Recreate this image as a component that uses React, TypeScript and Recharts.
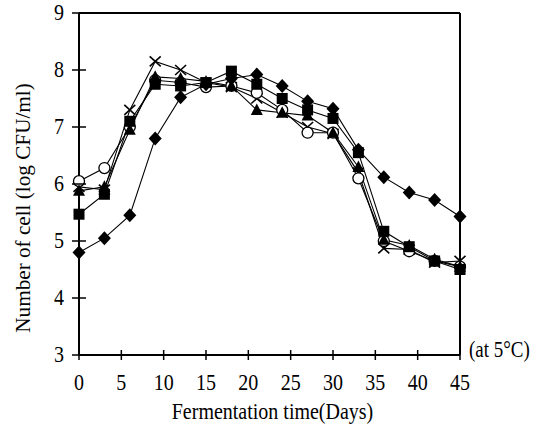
import React from "react";
import { LineChart, Line, XAxis, YAxis, ReferenceLine } from "recharts";

const days = [0, 3, 6, 9, 12, 15, 18, 21, 24, 27, 30, 33, 36, 39, 42, 45];
const diamond = [4.8, 5.05, 5.45, 6.8, 7.52, 7.75, 7.85, 7.92, 7.72, 7.45, 7.32, 6.6, 6.12, 5.85, 5.72, 5.43];
const square = [5.47, 5.82, 7.1, 7.75, 7.72, 7.78, 7.98, 7.75, 7.5, 7.3, 7.15, 6.55, 5.17, 4.9, 4.65, 4.5];
const triangle = [5.88, 5.95, 6.95, 7.88, 7.85, 7.8, 7.72, 7.3, 7.25, 7.2, 6.9, 6.3, 5.02, 4.92, 4.68, 4.55];
const circle = [6.05, 6.28, 7.0, 7.82, 7.78, 7.7, 7.72, 7.6, 7.3, 6.9, 6.9, 6.1, 5.0, 4.82, 4.65, 4.55];
const cross = [5.95, 5.9, 7.3, 8.15, 8.0, 7.78, 7.7, 7.5, 7.25, 7.0, 6.88, 6.2, 4.87, 4.85, 4.62, 4.65];

const xTicks = [0, 5, 10, 15, 20, 25, 30, 35, 40, 45];
const yTicks = [3, 4, 5, 6, 7, 8, 9];

const data = days.map((d, i) => ({
  day: d,
  diamond: diamond[i],
  square: square[i],
  triangle: triangle[i],
  circle: circle[i],
  cross: cross[i],
}));

const FONT = "Liberation Serif, Times New Roman, serif";
const txt = { fontFamily: FONT, fill: "#000" };
// the scan is stretched vertically, so text gets a small vertical scale too
const STRETCH = 1.2;

function marker(kind: string) {
  return (props: any) => {
    const { cx, cy, index } = props;
    if (cx == null || cy == null) return <g key={index} />;
    switch (kind) {
      case "diamond":
        return <polygon key={index} points={`${cx},${cy - 7} ${cx + 6.5},${cy} ${cx},${cy + 7} ${cx - 6.5},${cy}`} fill="#000" />;
      case "square":
        return <rect key={index} x={cx - 5.5} y={cy - 5.5} width={11} height={11} fill="#000" />;
      case "triangle":
        return <polygon key={index} points={`${cx},${cy - 6.5} ${cx + 6},${cy + 5} ${cx - 6},${cy + 5}`} fill="#000" />;
      case "circle":
        return <circle key={index} cx={cx} cy={cy} r={5.5} fill="#fff" stroke="#000" strokeWidth={1.3} />;
      default:
        return (
          <g key={index} stroke="#000" strokeWidth={1.6}>
            <line x1={cx - 5.5} y1={cy - 5} x2={cx + 5.5} y2={cy + 5} />
            <line x1={cx - 5.5} y1={cy + 5} x2={cx + 5.5} y2={cy - 5} />
          </g>
        );
    }
  };
}

const YTick = (props: any) => {
  const { x, y, payload } = props;
  return (
    <g>
      <line x1={x - 7} x2={x + 7} y1={y} y2={y} stroke="#000" strokeWidth={1.5} />
      <text transform={`translate(${x - 15},${y + 7}) scale(1,1.12)`} textAnchor="end" fontSize={20} style={txt}>
        {payload.value}
      </text>
    </g>
  );
};

const XTick = (props: any) => {
  const { x, y, payload } = props;
  return (
    <g>
      <line x1={x} x2={x} y1={y - 5} y2={y + 5} stroke="#000" strokeWidth={1.5} />
      <text transform={`translate(${x},${y + 35}) scale(1,${STRETCH})`} textAnchor="middle" fontSize={20} style={txt}>
        {payload.value}
      </text>
    </g>
  );
};

const XTitle = (props: any) => {
  const { x, y, width } = props.viewBox;
  return (
    <text transform={`translate(${x + width / 2 + 3},${y + 64}) scale(1,${STRETCH})`} textAnchor="middle" fontSize={20} style={txt}>
      Fermentation time(Days)
    </text>
  );
};

const YTitle = (props: any) => {
  const { y, height } = props.viewBox;
  return (
    <text transform={`translate(30,${y + height / 2 + 24}) rotate(-90) scale(1.06,1)`} textAnchor="middle" fontSize={20} style={txt}>
      Number of cell (log CFU/ml)
    </text>
  );
};

const TempNote = (props: any) => {
  const { x, y, width } = props.viewBox;
  return (
    <text transform={`translate(${x + width + 9},${y + 2}) scale(1,${STRETCH})`} fontSize={19} style={txt}>
      (at 5°C)
    </text>
  );
};

const series = ["cross", "circle", "triangle", "square", "diamond"];

export default function App() {
  return (
    <div style={{ position: "absolute", left: 0, top: 0, width: 540, height: 428, background: "#fff", fontFamily: FONT }}>
      <LineChart width={540} height={428} data={data} margin={{ top: 13, right: 80, left: 0, bottom: 0 }}>
        <XAxis
          dataKey="day"
          type="number"
          domain={[0, 45]}
          ticks={xTicks}
          height={73}
          tickLine={false}
          tickSize={0}
          tickMargin={0}
          tick={<XTick />}
          axisLine={{ stroke: "#000", strokeWidth: 2 }}
          label={<XTitle />}
        />
        <YAxis
          type="number"
          domain={[3, 9]}
          ticks={yTicks}
          width={79}
          tickLine={false}
          tickSize={0}
          tickMargin={0}
          tick={<YTick />}
          axisLine={{ stroke: "#000", strokeWidth: 2 }}
          label={<YTitle />}
        />
        <ReferenceLine y={9} stroke="#000" strokeWidth={2} />
        <ReferenceLine x={45} stroke="#000" strokeWidth={2} />
        <ReferenceLine y={3} stroke="none" label={<TempNote />} />
        {series.map((s) => (
          <Line
            key={s}
            dataKey={s}
            stroke="#000"
            strokeWidth={1.1}
            dot={marker(s)}
            activeDot={false}
            isAnimationActive={false}
          />
        ))}
      </LineChart>
    </div>
  );
}
